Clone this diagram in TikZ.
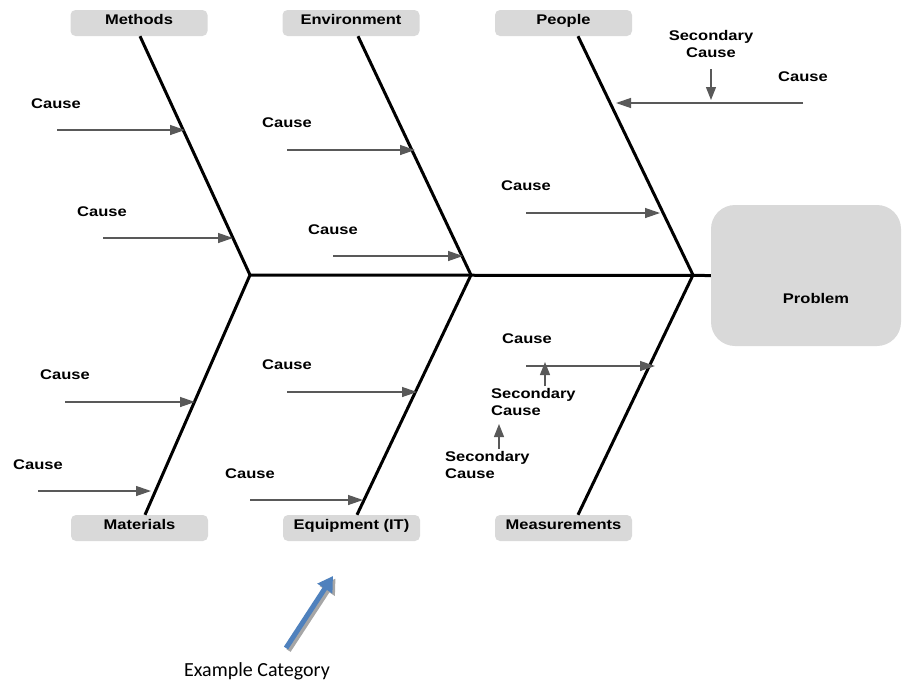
\documentclass[tikz,border=0pt]{standalone}
\usepackage{fontspec}
\setmainfont{Liberation Sans}
\newfontfamily\labfont[FakeStretch=1.18]{Liberation Sans}
\newfontfamily\notefont{Carlito}
\usetikzlibrary{arrows.meta}
\definecolor{boxgray}{HTML}{D9D9D9}
\definecolor{arrowgray}{HTML}{595959}
\definecolor{noteblue}{HTML}{4F81BD}
\definecolor{shadowgray}{HTML}{A6A6A6}

\begin{document}
\begin{tikzpicture}[x=1pt,y=-1pt,
  labtext/.style={font=\labfont\bfseries\fontsize{14}{17}\selectfont},
  cat/.style={labtext, fill=boxgray, rounded corners=5pt, minimum width=137pt,
              minimum height=26pt, inner sep=0pt, text depth=7pt},
  probbox/.style={fill=boxgray, rounded corners=24pt, minimum width=190pt,
                  minimum height=141pt, inner sep=0pt},
  lbl/.style={labtext, inner sep=0pt, align=center},
  lbll/.style={labtext, inner sep=0pt, align=left, anchor=west},
  bone/.style={line width=3pt, line cap=butt},
  cause/.style={draw=arrowgray, line width=1.3pt,
                -{Triangle[length=15pt,width=10pt]}},
  sec/.style={draw=arrowgray, line width=1.3pt,
              -{Triangle[length=13pt,width=10pt]}},
]
\useasboundingbox (0,0) rectangle (902,686);

% ---- head of the fish ----
\node[probbox] (problem) at (806,275.5) {};
\node[lbl] (problemtxt) at (816,298) {Problem};

% ---- category boxes ----
\node[cat] (methods) at (139,23) {Methods};
\node[cat] (env)     at (351,23) {Environment};
\node[cat] (people)  at (563.5,23) {People};
\node[cat] (mat)     at (139.5,528) {Materials};
\node[cat] (equip)   at (351.5,528) {Equipment (IT)};
\node[cat] (meas)    at (563.5,528) {Measurements};

% ---- spine and joints ----
\coordinate (j1) at (250,275);
\coordinate (j2) at (471,275);
\coordinate (j3) at (693,275);
\draw[bone] (j1) -- (problem.west);

% ---- bones ----
\draw[bone] ([xshift=1pt]methods.south) -- (j1) -- ([xshift=5.5pt]mat.north);
\draw[bone] ([xshift=7pt]env.south) -- (j2) -- ([xshift=5.5pt]equip.north);
\draw[bone] ([xshift=14.5pt]people.south) -- (j3) -- ([xshift=14.5pt]meas.north);

% ---- Methods causes ----
\node[lbl] (mc1) at (56,104) {Cause};
\coordinate (mc1a) at (57,130);   \coordinate (mc1b) at (185,130);
\draw[cause] (mc1a) -- (mc1b);
\node[lbl] (mc2) at (102,212) {Cause};
\coordinate (mc2a) at (103,238);  \coordinate (mc2b) at (233,238);
\draw[cause] (mc2a) -- (mc2b);

% ---- Environment causes ----
\node[lbl] (ec1) at (287,123) {Cause};
\coordinate (ec1a) at (287,150);  \coordinate (ec1b) at (415,150);
\draw[cause] (ec1a) -- (ec1b);
\node[lbl] (ec2) at (333,230) {Cause};
\coordinate (ec2a) at (333,256);  \coordinate (ec2b) at (463,256);
\draw[cause] (ec2a) -- (ec2b);

% ---- People causes ----
\node[lbl] (ps1) at (711,44) {Secondary\\Cause};
\node[lbl] (pc1) at (803,77) {Cause};
\coordinate (pc1a) at (803,103);  \coordinate (pc1b) at (616,103);
\draw[cause] (pc1a) -- (pc1b);
\coordinate (ps1a) at (711,69);   \coordinate (ps1b) at (711,100);
\draw[sec] (ps1a) -- (ps1b);
\node[lbl] (pc2) at (526,186) {Cause};
\coordinate (pc2a) at (526,213);  \coordinate (pc2b) at (660,213);
\draw[cause] (pc2a) -- (pc2b);

% ---- Materials causes ----
\node[lbl] (ac1) at (65,375) {Cause};
\coordinate (ac1a) at (65,402);   \coordinate (ac1b) at (195,402);
\draw[cause] (ac1a) -- (ac1b);
\node[lbl] (ac2) at (38,465) {Cause};
\coordinate (ac2a) at (38,491);   \coordinate (ac2b) at (151,491);
\draw[cause] (ac2a) -- (ac2b);

% ---- Equipment causes ----
\node[lbl] (qc1) at (287,365) {Cause};
\coordinate (qc1a) at (287,392);  \coordinate (qc1b) at (417,392);
\draw[cause] (qc1a) -- (qc1b);
\node[lbl] (qc2) at (250,474) {Cause};
\coordinate (qc2a) at (250,500);  \coordinate (qc2b) at (363,500);
\draw[cause] (qc2a) -- (qc2b);

% ---- Measurements causes ----
\node[lbl] (uc1) at (527,339) {Cause};
\coordinate (uc1a) at (526,366);  \coordinate (uc1b) at (655,366);
\draw[cause] (uc1a) -- (uc1b);
\node[lbll] (us1) at (491,401.5) {Secondary\\Cause};
\coordinate (us1a) at (545,386);  \coordinate (us1b) at (545,362);
\draw[sec] (us1a) -- (us1b);
\node[lbll] (us2) at (445,464.5) {Secondary\\Cause};
\coordinate (us2a) at (499,449);  \coordinate (us2b) at (499,424);
\draw[sec] (us2a) -- (us2b);

% ---- example note ----
\node[inner sep=0pt, font=\notefont\fontsize{20}{24}\selectfont] (note) at (257,671) {Example Category};
\coordinate (exa) at (286,648);
\coordinate (exb) at (333,576);
\draw[line width=5pt, shadowgray, -{Triangle[length=15pt,width=17pt]}]
  ([shift={(2.5,2.5)}]exa) -- ([shift={(2.5,2.5)}]exb);
\draw[line width=5pt, noteblue, -{Triangle[length=15pt,width=17pt]}] (exa) -- (exb);
\end{tikzpicture}
\end{document}
